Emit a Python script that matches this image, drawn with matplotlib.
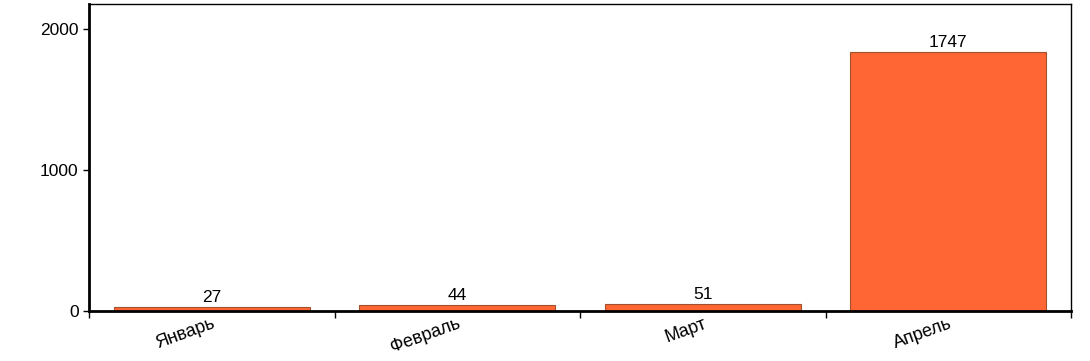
import matplotlib.pyplot as plt
import numpy as np

plt.rcParams['font.family'] = ['Liberation Sans', 'DejaVu Sans']

months = ['Январь', 'Февраль', 'Март', 'Апрель']
heights = [27, 44, 51, 1835]
labels = [27, 44, 51, 1747]

fig = plt.figure(figsize=(10.9, 3.61), dpi=100)
ax = fig.add_axes([89 / 1090, 1 - 311 / 361, (1071 - 89) / 1090, (311 - 4) / 361])

x = np.arange(len(months))
bars = ax.bar(x, heights, width=0.8, color='#FF6633', edgecolor='#A0522D', linewidth=0.8)
for b, lab in zip(bars, labels):
    ax.text(b.get_x() + b.get_width() / 2, b.get_height() + 15, str(lab),
            ha='center', va='bottom', fontsize=12.5)

ax.set_xlim(-0.5, len(months) - 0.5)
ax.set_ylim(0, 2177)
ax.set_yticks([0, 1000, 2000])
ax.tick_params(axis='y', labelsize=12.5, length=4, width=1)

# ticks sit on category boundaries, names in the middle
ax.set_xticks(np.arange(len(months) + 1) - 0.5)
ax.set_xticklabels([])
ax.tick_params(axis='x', length=5, width=1)
ax.set_xticks(x, minor=True)
ax.set_xticklabels(months, minor=True, rotation=20, ha='right', rotation_mode='anchor', fontsize=13)
ax.tick_params(axis='x', which='minor', length=0, pad=3)

ax.spines['left'].set_linewidth(2)
ax.spines['bottom'].set_linewidth(2)
ax.spines['top'].set_linewidth(1)
ax.spines['right'].set_linewidth(1)

fig.savefig('out.png', dpi=100)
